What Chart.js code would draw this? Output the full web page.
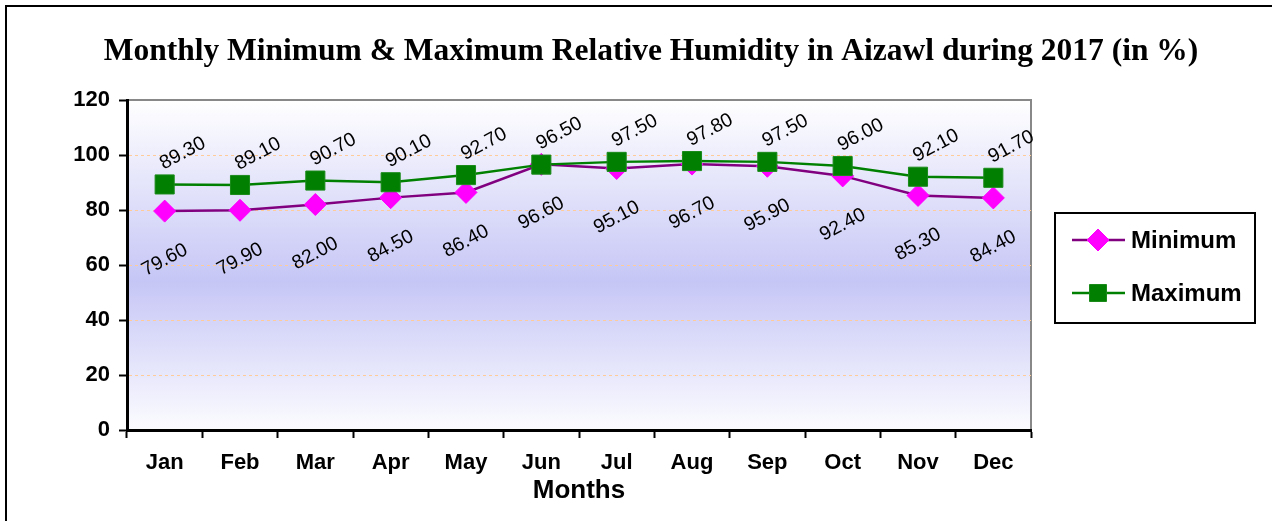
<!DOCTYPE html>
<html lang="en">
<head>
<meta charset="UTF-8">
<title>Relative Humidity in Aizawl 2017</title>
<script src="https://cdn.jsdelivr.net/npm/chart.js@4.4.1/dist/chart.umd.min.js"></script>
<style>
  html, body {margin: 0; padding: 0; background: #fff;}
</style>
</head>
<body>
<canvas id="chart" width="1272" height="521"></canvas>
<script>
// data
const months = ['Jan', 'Feb', 'Mar', 'Apr', 'May', 'Jun', 'Jul', 'Aug', 'Sep', 'Oct', 'Nov', 'Dec'];
const minimum = [79.6, 79.9, 82.0, 84.5, 86.4, 96.6, 95.1, 96.7, 95.9, 92.4, 85.3, 84.4];
const maximum = [89.3, 89.1, 90.7, 90.1, 92.7, 96.5, 97.5, 97.8, 97.5, 96.0, 92.1, 91.7];
const yTicks = [0, 20, 40, 60, 80, 100, 120];
const chartTitle = 'Monthly Minimum & Maximum Relative Humidity in Aizawl during 2017 (in %)';
const xTitle = 'Months';

const SANS = '"Liberation Sans", Arial, sans-serif';
const SERIF = '"Liberation Serif", "Times New Roman", serif';

// frame, plot background and heading
const backdrop = {
    id: 'backdrop',
    beforeDraw(chart) {
        const {ctx, chartArea: a} = chart;
        ctx.save();
        ctx.fillStyle = '#000';
        ctx.fillRect(5, 5, 2, chart.height - 5);
        ctx.fillRect(5, 5, chart.width - 5, 2);

        const g = ctx.createLinearGradient(0, a.top, 0, a.bottom);
        g.addColorStop(0, '#ffffff');
        g.addColorStop(0.55, '#c6c6f6');
        g.addColorStop(1, '#fcfcff');
        ctx.fillStyle = g;
        ctx.fillRect(a.left, a.top, a.right - a.left, a.bottom - a.top);

        ctx.strokeStyle = '#888';
        ctx.lineWidth = 2;
        ctx.beginPath();
        ctx.moveTo(a.left, a.top);
        ctx.lineTo(a.right, a.top);
        ctx.lineTo(a.right, a.bottom);
        ctx.stroke();

        ctx.fillStyle = '#000';
        ctx.font = 'bold 31.5px ' + SERIF;
        ctx.textAlign = 'center';
        ctx.textBaseline = 'middle';
        ctx.fillText(chartTitle, 651, 52);
        ctx.restore();
    }
};

// rotated value labels, max above the point, min below
const labelOffsets = [{x: 0, y: 49}, {x: 18, y: -31}];
const valueLabels = {
    id: 'valueLabels',
    afterDatasetsDraw(chart) {
        const ctx = chart.ctx;
        chart.data.datasets.forEach((ds, i) => {
            const off = labelOffsets[i];
            chart.getDatasetMeta(i).data.forEach((pt, j) => {
                ctx.save();
                ctx.translate(pt.x + off.x, pt.y + off.y);
                ctx.rotate(-28 * Math.PI / 180);
                ctx.font = '19.5px ' + SANS;
                ctx.fillStyle = '#000';
                ctx.textAlign = 'center';
                ctx.textBaseline = 'middle';
                ctx.fillText(ds.data[j].toFixed(2), 0, 0);
                ctx.restore();
            });
        });
    }
};

// boxed legend to the right of the plot
const boxLegend = {
    id: 'boxLegend',
    afterDraw(chart) {
        const ctx = chart.ctx;
        const box = {x: 1055, y: 213, w: 200, h: 110};
        ctx.save();
        ctx.strokeStyle = '#000';
        ctx.lineWidth = 2;
        ctx.strokeRect(box.x, box.y, box.w, box.h);
        chart.data.datasets.forEach((ds, i) => {
            const y = box.y + 27 + i * 53;
            ctx.strokeStyle = ds.borderColor;
            ctx.lineWidth = ds.borderWidth;
            ctx.beginPath();
            ctx.moveTo(box.x + 17, y);
            ctx.lineTo(box.x + 70, y);
            ctx.stroke();
            ctx.fillStyle = ds.pointBackgroundColor;
            ctx.strokeStyle = ds.pointBorderColor;
            ctx.lineWidth = 1;
            Chart.helpers.drawPoint(ctx, {
                pointStyle: ds.pointStyle,
                radius: ds.legendRadius,
                rotation: 0,
                borderWidth: 1
            }, box.x + 43, y);
            ctx.fillStyle = '#000';
            ctx.font = 'bold 24px ' + SANS;
            ctx.textAlign = 'left';
            ctx.textBaseline = 'middle';
            ctx.fillText(ds.label, box.x + 76, y + 1);
        });
        ctx.restore();
    }
};

new Chart('chart', {
    type: 'line',
    data: {
        labels: months,
        datasets: [
            {
                label: 'Minimum',
                data: minimum,
                borderColor: '#800080',
                borderWidth: 2.5,
                pointStyle: 'rectRot',
                pointRadius: 11,
                pointHoverRadius: 11,
                pointBackgroundColor: '#ff00ff',
                pointBorderColor: '#ff00ff',
                pointBorderWidth: 1,
                legendRadius: 11,
                order: 1
            },
            {
                label: 'Maximum',
                data: maximum,
                borderColor: '#008000',
                borderWidth: 2.5,
                pointStyle: 'rect',
                pointRadius: 13.5,
                pointHoverRadius: 13.5,
                pointBackgroundColor: '#007f00',
                pointBorderColor: '#1a8a1a',
                pointBorderWidth: 1,
                legendRadius: 12,
                order: 0
            }
        ]
    },
    options: {
        responsive: false,
        animation: false,
        layout: {padding: {left: 0, right: 241, top: 100, bottom: 0}},
        plugins: {
            legend: {display: false},
            title: {display: false},
            tooltip: {enabled: false}
        },
        scales: {
            x: {
                offset: true,
                grid: {display: true, drawOnChartArea: false, offset: true, tickLength: 8, tickColor: '#000', tickWidth: 2},
                border: {color: '#000', width: 3},
                ticks: {font: {family: SANS, size: 22, weight: 'bold'}, color: '#000', padding: 12, maxRotation: 0, autoSkip: false},
                title: {display: true, text: xTitle, color: '#000', font: {family: SANS, size: 26, weight: 'bold'}, padding: {top: 0, bottom: 15}},
                afterFit(s) { s.height = 91; }
            },
            y: {
                min: yTicks[0],
                max: yTicks[yTicks.length - 1],
                afterBuildTicks(s) { s.ticks = yTicks.map(v => ({value: v})); },
                grid: {
                    color: c => (c.tick && (c.tick.value === 0 || c.tick.value === 120)) ? 'rgba(0,0,0,0)' : '#ffcc99',
                    lineWidth: 1,
                    tickLength: 8,
                    tickColor: '#000',
                    tickWidth: 2
                },
                border: {color: '#000', width: 3, dash: [3, 3]},
                ticks: {font: {family: SANS, size: 22, weight: 'bold'}, color: '#000', padding: 9},
                afterFit(s) { s.width = 127; }
            }
        }
    },
    plugins: [backdrop, valueLabels, boxLegend]
});
</script>
</body>
</html>
